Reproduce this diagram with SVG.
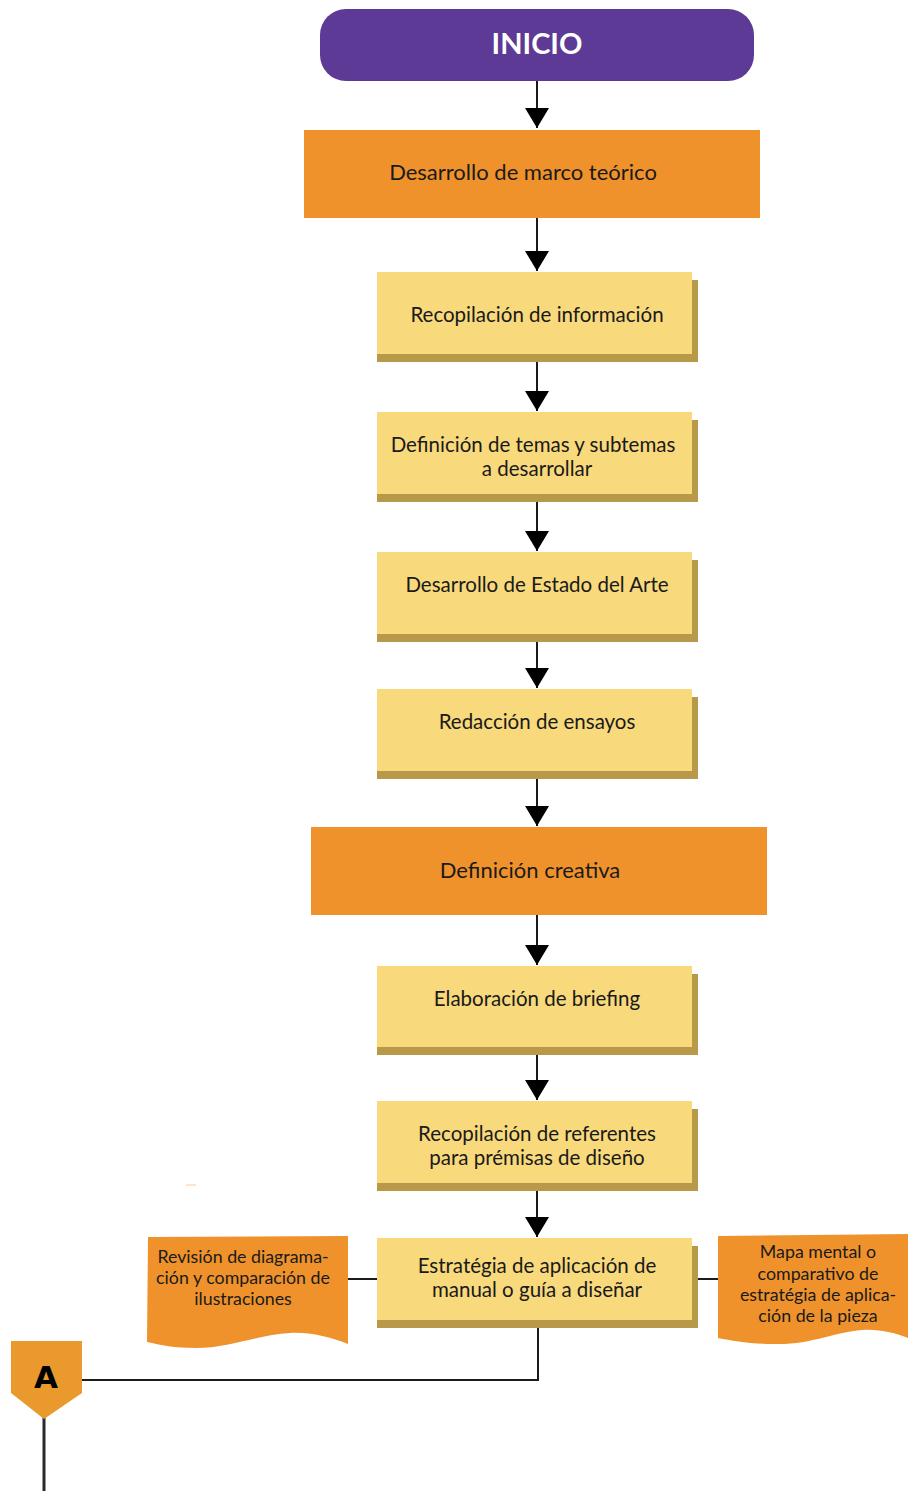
<svg xmlns="http://www.w3.org/2000/svg" width="908" height="1491" viewBox="0 0 908 1491">
<defs>
<style>
.t{font-family:Lato,"Open Sans","Liberation Sans",sans-serif;fill:#1a1a1a;text-anchor:middle}
.m{font-size:20.5px}
.l{font-size:22px}
.s{font-size:17.8px}
.y{fill:#F8D97C}
.sh{fill:#B8994A}
.o{fill:#EF922C}
.ln{stroke:#1a1a1a;stroke-width:2;fill:none}
</style>
<marker id="ah" viewBox="0 0 20 24" markerWidth="20" markerHeight="24" refX="20" refY="12" markerUnits="userSpaceOnUse" orient="auto">
<path d="M0,0 L20,12 L0,24 Z" fill="#000"/>
</marker>
</defs>
<rect width="908" height="1491" fill="#fff"/>

<g id="connectors">
<path class="ln" d="M537,81 V128" marker-end="url(#ah)"/>
<path class="ln" d="M537,218 V271" marker-end="url(#ah)"/>
<path class="ln" d="M537,362 V411" marker-end="url(#ah)"/>
<path class="ln" d="M537,502 V551" marker-end="url(#ah)"/>
<path class="ln" d="M537,642 V688" marker-end="url(#ah)"/>
<path class="ln" d="M537,779 V826" marker-end="url(#ah)"/>
<path class="ln" d="M537,915 V965" marker-end="url(#ah)"/>
<path class="ln" d="M537,1055 V1100" marker-end="url(#ah)"/>
<path class="ln" d="M537,1191 V1237" marker-end="url(#ah)"/>
<path class="ln" d="M348,1279 H377"/>
<path class="ln" d="M698,1279 H718"/>
<path class="ln" d="M538,1328 V1380 H81"/>
<path d="M44,1416 V1491" stroke="#2a2a2a" stroke-width="3" fill="none"/>
</g>

<g id="inicio">
<rect x="320" y="9" width="434" height="72" rx="26" fill="#5C3A96"/>
<text x="537" y="54" font-family="Lato,'Open Sans','Liberation Sans',sans-serif" font-weight="bold" font-size="29" fill="#fff" text-anchor="middle">INICIO</text>
</g>

<g id="marco">
<rect class="o" x="304" y="130" width="456" height="88"/>
<text class="t l" x="523" y="180">Desarrollo de marco teórico</text>
</g>

<g id="recopilacion">
<rect class="sh" x="377" y="280" width="321" height="82"/>
<rect class="y" x="377" y="272" width="315" height="82"/>
<text class="t m" x="537" y="322">Recopilación de información</text>
</g>

<g id="temas">
<rect class="sh" x="377" y="420" width="321" height="82"/>
<rect class="y" x="377" y="412" width="315" height="82"/>
<text class="t m" x="533" y="452">Definición de temas y subtemas</text>
<text class="t m" x="537" y="476">a desarrollar</text>
</g>

<g id="estado">
<rect class="sh" x="377" y="560" width="321" height="82"/>
<rect class="y" x="377" y="552" width="315" height="82"/>
<text class="t m" x="537" y="592">Desarrollo de Estado del Arte</text>
</g>

<g id="redaccion">
<rect class="sh" x="377" y="697" width="321" height="82"/>
<rect class="y" x="377" y="689" width="315" height="82"/>
<text class="t m" x="537" y="729">Redacción de ensayos</text>
</g>

<g id="creativa">
<rect class="o" x="311" y="827" width="456" height="88"/>
<text class="t l" x="530" y="878">Definición creativa</text>
</g>

<g id="briefing">
<rect class="sh" x="377" y="974" width="321" height="81"/>
<rect class="y" x="377" y="966" width="315" height="81"/>
<text class="t m" x="537" y="1006">Elaboración de briefing</text>
</g>

<g id="referentes">
<rect class="sh" x="377" y="1109" width="321" height="82"/>
<rect class="y" x="377" y="1101" width="315" height="82"/>
<text class="t m" x="537" y="1141">Recopilación de referentes</text>
<text class="t m" x="537" y="1165">para prémisas de diseño</text>
</g>

<g id="estrategia">
<rect class="sh" x="377" y="1246" width="321" height="82"/>
<rect class="y" x="377" y="1238" width="315" height="82"/>
<text class="t m" x="537" y="1273">Estratégia de aplicación de</text>
<text class="t m" x="537" y="1297">manual o guía a diseñar</text>
</g>

<g id="revision">
<path class="o" d="M148,1237 L348,1236 L348,1344 C330,1337 310,1332 290,1333 C260,1334 230,1348 196,1348 C175,1348 160,1345 147,1342 Z"/>
<text class="t s" x="243" y="1263">Revisión de diagrama-</text>
<text class="t s" x="243" y="1284">ción y comparación de</text>
<text class="t s" x="243" y="1305">ilustraciones</text>
</g>

<g id="mapa">
<path class="o" d="M718,1236 L908,1234 L908,1338 C895,1333 880,1329 862,1330 C835,1332 810,1345 775,1344 C750,1344 733,1341 718,1338 Z"/>
<text class="t s" x="818" y="1258">Mapa mental o</text>
<text class="t s" x="818" y="1280">comparativo de</text>
<text class="t s" x="818" y="1301">estratégia de aplica-</text>
<text class="t s" x="818" y="1322">ción de la pieza</text>
</g>

<g id="conector-a">
<path d="M11,1341 H82 V1393 L44,1419 L11,1393 Z" fill="#EA9A2C"/>
<text x="46" y="1388" font-family="'DejaVu Sans','Liberation Sans',sans-serif" font-weight="900" font-size="31" fill="#000" text-anchor="middle">A</text>
</g>

<line x1="186" y1="1185" x2="196" y2="1185" stroke="#F6C8A0" stroke-width="1"/>
</svg>
